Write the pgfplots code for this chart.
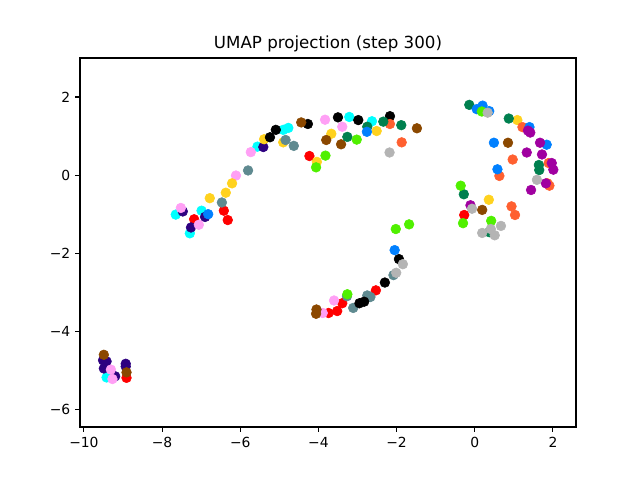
\documentclass[border=0pt]{standalone}
\usepackage{pgfplots}
\pgfplotsset{compat=1.18}
\usepackage{fontspec}
\setmainfont{DejaVu Sans}
\definecolor{cRed}{HTML}{FF0000}
\definecolor{cCyan}{HTML}{00FFFF}
\definecolor{cIndigo}{HTML}{2E0080}
\definecolor{cPink}{HTML}{FFA0F5}
\definecolor{cGold}{HTML}{FFD21F}
\definecolor{cSlate}{HTML}{5F8A90}
\definecolor{cBlack}{HTML}{000000}
\definecolor{cBrown}{HTML}{8B4800}
\definecolor{cOrange}{HTML}{FF6030}
\definecolor{cDkGreen}{HTML}{00804F}
\definecolor{cBlue}{HTML}{0080FF}
\definecolor{cLime}{HTML}{50F000}
\definecolor{cPurple}{HTML}{A000A0}
\definecolor{cGray}{HTML}{B4B4B4}
\begin{document}
\begin{tikzpicture}
\begin{axis}[
  scale only axis,
  width=357.1pt, height=265.7pt,
  xmin=-10.10, xmax=2.59,
  ymin=-6.45, ymax=3.0,
  axis line style={line width=0.8pt},
  tick align=outside, tick pos=left,
  major tick length=3.5pt,
  every tick/.style={black, line width=0.8pt},
  xtick={-10,-8,-6,-4,-2,0,2},
  xticklabels={−10,−8,−6,−4,−2,0,2},
  ytick={-6,-4,-2,0,2},
  yticklabels={−6,−4,−2,0,2},
  tick label style={font=\fontsize{10}{12}\selectfont},
  xticklabel style={yshift=-0.5pt},
  title={UMAP projection (step 300)},
  title style={font=\fontsize{12}{14}\selectfont, at={(0.5,1)}, anchor=south, yshift=-5pt},
  every axis plot/.append style={only marks, mark=*, mark size=3.5pt},
]
\addplot[cRed, mark options={draw=none, fill=cRed}] coordinates {
(-6.42,-0.91) (-6.32,-1.15) (-7.18,-1.13) (-4.23,0.49) (-2.53,-2.95)
(-3.39,-3.28) (-3.52,-3.48) (-3.74,-3.53) (-0.27,-1.02) (-8.91,-5.19)};
\addplot[cCyan, mark options={draw=none, fill=cCyan}] coordinates {
(-5.56,0.73) (-4.90,1.16) (-4.77,1.21) (-6.99,-0.91) (-7.65,-1.01)
(-7.29,-1.49) (-3.21,1.49) (-2.63,1.38) (-9.42,-5.18)};
\addplot[cIndigo, mark options={draw=none, fill=cIndigo}] coordinates {
(-5.41,0.72) (-6.90,-1.07) (-7.47,-0.93) (-7.26,-1.34) (-9.51,-4.74)
(-9.42,-4.77) (-9.49,-4.95) (-9.20,-5.15) (-8.93,-4.83) (-8.93,-4.90)};
\addplot[cPink, mark options={draw=none, fill=cPink}] coordinates {
(-5.73,0.59) (-6.11,-0.01) (-7.52,-0.84) (-7.06,-1.27) (-3.83,1.42)
(-3.39,1.24) (-3.60,-3.21) (-3.89,-3.53) (-9.31,-4.98) (-9.27,-5.22)};
\addplot[cGold, mark options={draw=none, fill=cGold}] coordinates {
(-5.39,0.92) (-6.21,-0.21) (-6.37,-0.45) (-6.78,-0.59) (-4.90,0.84)
(-4.04,0.34) (-3.67,1.06) (-2.51,1.13) (1.09,1.41) (0.36,-0.63)};
\addplot[cSlate, mark options={draw=none, fill=cSlate}] coordinates {
(-5.80,0.12) (-6.47,-0.70) (-4.84,0.90) (-4.63,0.75) (-2.08,-2.56)
(-2.67,-3.12) (-2.75,-3.08) (-3.11,-3.40) (-3.27,-3.10)};
\addplot[cBlack, mark options={draw=none, fill=cBlack}] coordinates {
(-5.09,1.16) (-5.24,0.97) (-4.27,1.31) (-3.50,1.48) (-2.98,1.41)
(-2.17,1.51) (-1.94,-2.15) (-2.30,-2.75) (-2.83,-3.24) (-2.95,-3.28)};
\addplot[cBrown, mark options={draw=none, fill=cBrown}] coordinates {
(-4.44,1.35) (-3.80,0.90) (-3.42,0.79) (-1.48,1.20) (0.85,0.83)
(0.19,-0.89) (-4.05,-3.44) (-4.06,-3.55) (-9.49,-4.60) (-8.91,-5.05)};
\addplot[cOrange, mark options={draw=none, fill=cOrange}] coordinates {
(-2.17,1.31) (-1.87,0.84) (1.22,1.23) (0.97,0.40) (1.89,0.31)
(0.63,-0.02) (1.86,-0.21) (1.91,-0.27) (0.94,-0.80) (1.03,-1.02)};
\addplot[cDkGreen, mark options={draw=none, fill=cDkGreen}] coordinates {
(-3.26,0.98) (-2.75,1.24) (-2.34,1.37) (-1.88,1.28) (-0.14,1.80)
(0.87,1.45) (1.64,0.26) (1.65,0.13) (-0.28,-0.49) (0.37,-1.46)};
\addplot[cBlue, mark options={draw=none, fill=cBlue}] coordinates {
(-6.82,-1.00) (-2.76,1.11) (0.05,1.69) (0.20,1.78) (0.37,1.64)
(1.40,1.23) (0.49,0.83) (1.84,0.78) (0.58,0.15) (-2.05,-1.92)};
\addplot[cLime, mark options={draw=none, fill=cLime}] coordinates {
(-4.06,0.20) (-3.82,0.50) (-3.02,0.91) (0.18,1.63) (-0.36,-0.27)
(-0.30,-1.23) (0.42,-1.17) (-2.02,-1.38) (-1.68,-1.26) (-3.26,-3.05)};
\addplot[cPurple, mark options={draw=none, fill=cPurple}] coordinates {
(1.36,1.14) (1.42,1.09) (1.67,0.83) (1.33,0.58) (1.72,0.53)
(1.97,0.31) (2.01,0.14) (1.82,-0.21) (1.44,-0.38) (-0.11,-0.77)};
\addplot[cGray, mark options={draw=none, fill=cGray}] coordinates {
(0.33,1.60) (-2.18,0.58) (1.59,-0.12) (-0.07,-0.86) (0.67,-1.30)
(0.41,-1.38) (0.19,-1.48) (0.51,-1.54) (-1.84,-2.28) (-2.01,-2.50)};
\end{axis}
\useasboundingbox ([shift={(-57.6pt,-38.16pt)}]current axis.south west) rectangle ([shift={(46.08pt,41.76pt)}]current axis.north east);
\end{tikzpicture}
\end{document}
